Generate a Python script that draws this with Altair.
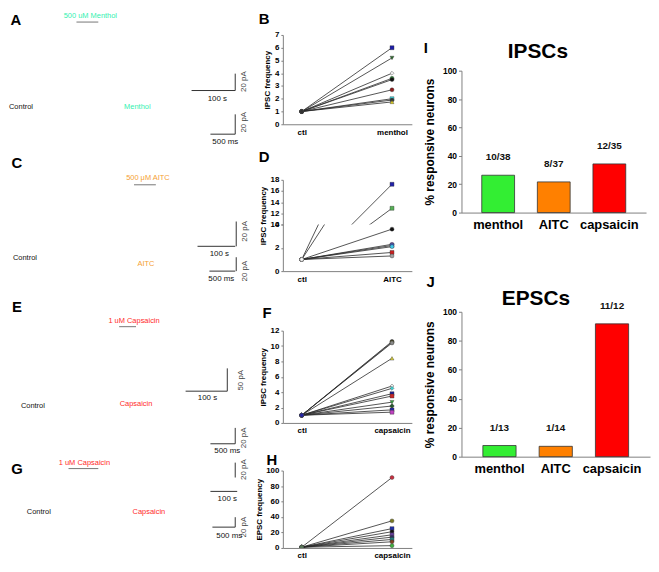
import altair as alt
import pandas as pd

FONT = "Liberation Sans"
AX = "#808080"
MINT = "#33F0B0"
ORANGE = "#F5A033"
RED = "#FF2A2A"

# ---------------- data ----------------
ctl_level = 1.0

B_treat = "menthol"
B_values = [6.0, 5.2, 4.0, 3.6, 3.5, 2.7, 2.0, 1.9, 1.75]
B_colors = ["#1c1ca8", "#2f6b2f", "#f4f4f4", "#2e9a3a", "#111111", "#8e1c1c", "#3fe0e8", "#333333", "#e0d020"]
B_shapes = ["square", "triangle-down", "diamond", "circle", "circle", "circle", "square", "circle", "triangle-up"]

D_treat = "AITC"
D_values = [17.2, 12.9, 3.6, 2.3, 2.2, 2.1, 1.6, 1.3]
D_colors = ["#2222aa", "#55b055", "#111111", "#9060c0", "#3a5cc8", "#40c8e8", "#c82020", "#a0a0a0"]
D_shapes = ["square", "square", "circle", "circle", "square", "circle", "square", "circle"]

F_treat = "capsaicin"
F_values = [10.6, 10.5, 10.4, 8.4, 4.8, 4.5, 3.8, 3.5, 2.7, 2.2, 1.7, 1.4]
F_colors = ["#111111", "#6e6e22", "#8a8a8a", "#d8d040", "#f4f4f4", "#3cd0d0", "#1e1e90", "#c82828", "#3aa040", "#1f5a28", "#2424a8", "#c040c0"]
F_shapes = ["circle", "circle", "circle", "triangle-up", "diamond", "diamond", "square", "square", "triangle-down", "cross", "square", "square"]

H_treat = "capsaicin"
H_values = [91, 35, 25, 21, 17, 14, 11, 8, 3]
H_colors = ["#c83040", "#7a7a20", "#2030a8", "#111111", "#6a40a0", "#303060", "#208080", "#804020", "#40b040"]
H_shapes = ["circle", "circle", "square", "circle", "square", "circle", "square", "circle", "circle"]

bar_categories = ["menthol", "AITC", "capsaicin"]
bar_colors = ["#33EE33", "#FF8000", "#FF0000"]
I_responsive = [10, 8, 12]
I_total = [38, 37, 35]
J_responsive = [1, 1, 11]
J_total = [13, 14, 12]

one = pd.DataFrame({"k": [0]})


# ---------------- helpers ----------------
def pair_frame(values, colors, shapes):
    rows = []
    for i, (v, c, s) in enumerate(zip(values, colors, shapes)):
        rows.append({"sid": i, "x": 0, "y": ctl_level, "fill": c, "shape": s})
        rows.append({"sid": i, "x": 1, "y": v, "fill": c, "shape": s})
    return pd.DataFrame(rows)


def marker(px, py):
    # invisible point that fixes the layout bounds of a panel
    return alt.Chart(one).mark_point(opacity=0, size=1, filled=True).encode(
        x=alt.value(px), y=alt.value(py))


def label_mark(text, dx, dy, size=15):
    return alt.Chart(one).mark_text(
        text=text, fontSize=size, fontWeight="bold", font=FONT,
        align="center", baseline="middle", color="#000"
    ).encode(x=alt.value(dx), y=alt.value(dy))


MID_W = 130


def line_panel(df, treat, ydomain, yvalues, height, ytitle, ctl_fill,
               show_x=True, title_y=None, letter=None, ldx=0, ldy=0,
               top=None, bottom=None, title_pad=3):
    if show_x:
        xaxis = alt.Axis(values=[0, 1],
                         labelExpr=f"datum.value == 0 ? 'ctl' : '{treat}'",
                         ticks=False, grid=False, domainColor=AX,
                         labelFontSize=8, labelFontWeight="bold",
                         labelPadding=4, title=None, labelColor="#000")
    else:
        xaxis = None
    yaxis_kw = dict(values=yvalues, grid=False, tickSize=2, tickColor=AX,
                    domainColor=AX, labelFontSize=8, labelFontWeight="bold",
                    labelPadding=2, titleFontSize=8, titleFontWeight="bold",
                    titlePadding=title_pad, labelColor="#000", titleColor="#000")
    yaxis_kw["title"] = ytitle if ytitle else None
    if title_y is not None:
        yaxis_kw["titleY"] = title_y
    x = alt.X("x:Q", scale=alt.Scale(domain=[-0.209, 1.22], nice=False, zero=False), axis=xaxis)
    y = alt.Y("y:Q", scale=alt.Scale(domain=ydomain, nice=False, zero=False), axis=alt.Axis(**yaxis_kw))
    lines = alt.Chart(df).mark_line(color="#2a2a2a", strokeWidth=0.8, clip=True).encode(
        x=x, y=y, detail="sid:N")
    pts = alt.Chart(df).transform_filter("datum.x == 1").mark_point(
        filled=True, size=16, clip=True, stroke="#333", strokeWidth=0.4, opacity=1
    ).encode(x=x, y=y, fill=alt.Fill("fill:N", scale=None),
             shape=alt.Shape("shape:N", scale=None))
    ctl = alt.Chart(df).transform_filter("datum.x == 0").mark_point(
        filled=True, size=16, clip=True, fill=ctl_fill, stroke="#444",
        strokeWidth=0.5, shape="circle", opacity=1
    ).encode(x=x, y=y)
    layers = [lines, pts, ctl]
    if letter:
        layers.append(label_mark(letter, ldx, ldy))
    if top is not None:
        layers.append(marker(-28, -top))
    if bottom is not None:
        layers.append(marker(MID_W + 2, height + bottom))
    return alt.layer(*layers).properties(width=MID_W, height=height)


def bar_panel(resp, tot, title, tdx, tdy, letter, ldx, ldy, width, height,
              pad_outer, top, bottom):
    df = pd.DataFrame({"cat": bar_categories, "resp": resp, "tot": tot, "col": bar_colors})
    df["pct"] = df["resp"] / df["tot"] * 100
    df["lab"] = [f"{r}/{t}" for r, t in zip(resp, tot)]
    x = alt.X("cat:N", sort=bar_categories,
              scale=alt.Scale(paddingInner=0.41, paddingOuter=pad_outer),
              axis=alt.Axis(labelAngle=0, ticks=False, labelFontSize=13,
                            labelFontWeight="bold", labelPadding=6,
                            domainColor=AX, title=None, labelColor="#000"))
    y = alt.Y("pct:Q", scale=alt.Scale(domain=[0, 100]),
              axis=alt.Axis(values=[0, 20, 40, 60, 80, 100], grid=False,
                            labelFontSize=8.5, labelFontWeight="bold",
                            title="% responsive neurons", titleFontSize=12,
                            titleFontWeight="bold", tickSize=3, tickColor=AX,
                            domainColor=AX, titlePadding=6, labelColor="#000",
                            titleColor="#000"))
    bars = alt.Chart(df).mark_bar(stroke="#333", strokeWidth=0.8).encode(
        x=x, y=y, color=alt.Color("col:N", scale=None))
    labels = alt.Chart(df).mark_text(dy=-18, fontSize=10, fontWeight="bold",
                                     font=FONT, baseline="middle", color="#111").encode(
        x=x, y=y, text="lab:N")
    layers = [bars, labels, label_mark(title, tdx, tdy, 21),
              label_mark(letter, ldx, ldy, 15)]
    if top is not None:
        layers.append(marker(-42, -top))
    if bottom is not None:
        layers.append(marker(-42, height + bottom))
    return alt.layer(*layers).properties(width=width, height=height)


# ---------------- left column (labels of the recordings) ----------------
LY = 24


def T(s, ox, oy, size=7.5, color="#111", align="center", angle=0, weight="normal"):
    return alt.Chart(one).mark_text(
        text=s, fontSize=size, color=color, align=align, baseline="middle",
        angle=angle, fontWeight=weight, font=FONT
    ).encode(x=alt.value(ox - 2), y=alt.value(oy - LY))


def HR(ox1, ox2, oy, color="#333"):
    return alt.Chart(one).mark_rule(color=color, strokeWidth=1).encode(
        x=alt.value(ox1 - 2), x2=alt.value(ox2 - 2), y=alt.value(oy - LY))


def VR(ox, oy1, oy2, color="#333"):
    return alt.Chart(one).mark_rule(color=color, strokeWidth=1).encode(
        x=alt.value(ox - 2), y=alt.value(oy1 - LY), y2=alt.value(oy2 - LY))


left_items = [
    # A
    T("A", 9, 9, 15, "#000", weight="bold"),
    T("500 uM Menthol", 84, 5, 7.5, MINT),
    HR(70, 92, 11, "#777"),
    HR(186, 230, 80), VR(230, 63, 80),
    T("100 s", 212, 89, 8),
    T("20 pA", 239, 71, 8, "#444", angle=270),
    T("Control", 2, 97, 7.5, align="left"),
    T("Menthol", 118, 97, 7.5, MINT, align="left"),
    HR(205, 230, 124), VR(230, 104, 124),
    T("20 pA", 239, 112, 8, "#444", angle=270),
    T("500 ms", 220, 132, 8),
    # C
    T("C", 10, 153, 15, "#000", weight="bold"),
    T("500 μM AITC", 142, 168, 7.5, ORANGE),
    HR(128, 150, 175, "#777"),
    HR(192, 230, 237), VR(231, 212, 237),
    T("100 s", 214, 245, 8),
    T("20 pA", 240, 222, 8, "#444", angle=270),
    T("Control", 6, 249, 7.5, align="left"),
    T("AITC", 140, 255, 7.5, ORANGE),
    HR(204, 230, 262), VR(231, 248, 262),
    T("500 ms", 216, 270, 8),
    T("20 pA", 240, 262, 8, "#444", angle=270),
    # E
    T("E", 10, 298, 15, "#000", weight="bold"),
    T("1 uM Capsaicin", 128, 312, 7.5, RED),
    HR(113, 130, 318, "#777"),
    HR(180, 222, 383), VR(222, 360, 383),
    T("100 s", 202, 390, 8),
    T("50 pA", 236, 372, 8, "#444", angle=270),
    T("Control", 14, 398, 7.5, align="left"),
    T("Capsaicin", 130, 396, 7.5, RED),
    HR(205, 230, 436), VR(230, 420, 436),
    T("500 ms", 222, 443, 8),
    T("20 pA", 239, 430, 8, "#444", angle=270),
    # G
    T("G", 10, 461, 15, "#000", weight="bold"),
    T("1 uM Capsaicin", 78, 455, 7.5, RED),
    HR(62, 92, 461, "#777"),
    VR(230, 455, 470),
    T("20 pA", 239, 462, 8, "#444", angle=270),
    HR(205, 232, 484),
    T("100 s", 222, 492, 8),
    T("Control", 20, 505, 7.5, align="left"),
    T("Capsaicin", 143, 505, 7.5, RED),
    HR(207, 230, 520), VR(230, 510, 520),
    T("20 pA", 239, 520, 8, "#444", angle=270),
    T("500 ms", 224, 529, 8),
    marker(0, -LY), marker(242, 500),
]
left = alt.layer(*left_items).properties(width=226, height=480)

# ---------------- middle column ----------------
B = line_panel(pair_frame(B_values, B_colors, B_shapes), B_treat, [0, 7],
               list(range(0, 8)), 90, "IPSC frequency", "#333333",
               letter="B", ldx=-19, ldy=-16, top=24, bottom=16)

D_df = pair_frame(D_values, D_colors, D_shapes)
D_up = line_panel(D_df, D_treat, [10, 18], [10, 12, 14, 16, 18], 45,
                  "IPSC frequency", "#f4f4f4", show_x=False, title_y=36,
                  letter="D", ldx=-19, ldy=-23, top=38)
D_low = line_panel(D_df, D_treat, [0, 4], [0, 2, 4], 47, None, "#f4f4f4",
                   bottom=16)
D = alt.vconcat(D_up, D_low, spacing=0, bounds="flush")

F = line_panel(pair_frame(F_values, F_colors, F_shapes), F_treat, [0, 12],
               [0, 2, 4, 6, 8, 10, 12], 93, "IPSC frequency", "#2424a8",
               letter="F", ldx=-16, ldy=-18, top=42, bottom=16)

H = line_panel(pair_frame(H_values, H_colors, H_shapes), H_treat, [0, 100],
               [0, 20, 40, 60, 80, 100], 78, "EPSC frequency", "#5a7a5a",
               letter="H", ldx=-11, ldy=-11, top=30, bottom=13, title_pad=2)

mid = alt.vconcat(B, D, F, H, spacing=0)

# ---------------- right column ----------------
spacer = alt.Chart(one).mark_point(opacity=0, size=1, filled=True).encode(
    x=alt.value(0), y=alt.value(0)).properties(width=186, height=1)
I = bar_panel(I_responsive, I_total, "IPSCs", 77, -19, "I", -36, -23,
              186, 143, 0.365, top=31, bottom=25)
J = bar_panel(J_responsive, J_total, "EPSCs", 75, -13, "J", -31, -30,
              190, 146, 0.38, top=71, bottom=None)
right = alt.vconcat(spacer, I, J, spacing=2)

chart = alt.hconcat(left, mid, right, spacing=4, padding=0).configure_view(
    stroke="transparent"
).configure_axis(labelFont=FONT, titleFont=FONT).configure_text(font=FONT)

chart.save("out.html", embed_options={"renderer": "svg", "actions": False})
